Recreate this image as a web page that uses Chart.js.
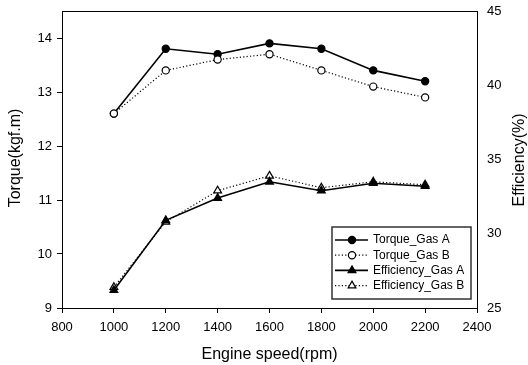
<!DOCTYPE html>
<html lang="en">
<head>
    <meta charset="UTF-8">
    <title>Torque and efficiency vs engine speed</title>
    <script src="https://cdn.jsdelivr.net/npm/chart.js"></script>
    <style>
        html, body { margin: 0; padding: 0; background: #fff; }
        #wrap { width: 528px; height: 365px; }
    </style>
</head>
<body>
    <div id="wrap"><canvas id="grafica" width="528" height="365"></canvas></div>

    <script>
        const FONT = "'Liberation Sans', Arial, sans-serif";

        // engine speed (rpm)
        const rpm = [1000, 1200, 1400, 1600, 1800, 2000, 2200];
        // torque (kgf.m)
        const torqueGasA = [12.6, 13.8, 13.7, 13.9, 13.8, 13.4, 13.2];
        const torqueGasB = [12.6, 13.4, 13.6, 13.7, 13.4, 13.1, 12.9];
        // efficiency (%)
        const effGasA = [26.2, 30.9, 32.4, 33.5, 32.9, 33.4, 33.2];
        const effGasB = [26.4, 30.8, 32.9, 33.9, 33.1, 33.5, 33.3];

        const serieNames = ['Torque_Gas A', 'Torque_Gas B', 'Efficiency_Gas A', 'Efficiency_Gas B'];

        const puntos = vals => rpm.map((r, i) => ({ x: r, y: vals[i] }));

        function serie(label, vals, axis, style, filled, dotted, orden) {
            return {
                label: label,
                data: puntos(vals),
                yAxisID: axis,
                order: orden,
                borderColor: '#000',
                borderWidth: dotted ? 1.2 : 1.6,
                borderDash: dotted ? [1.2, 2.2] : [],
                pointStyle: style,
                pointRadius: style === 'triangle' ? 4.5 : 3.6,
                pointBorderWidth: 1.2,
                pointBorderColor: '#000',
                pointBackgroundColor: filled ? '#000' : '#fff',
                tension: 0
            };
        }

        // fixed scale sizes, no extra room for the end labels
        const fijar = (w, h) => s => {
            if (w !== null) s.width = w;
            if (h !== null) s.height = h;
            s.paddingTop = 0; s.paddingBottom = 0;
            s.paddingLeft = 0; s.paddingRight = 0;
        };

        // box around the plot area
        const marco = {
            id: 'marco',
            beforeDatasetsDraw(chart) {
                const { ctx, chartArea: a } = chart;
                ctx.save();
                ctx.strokeStyle = '#000';
                ctx.lineWidth = 1;
                ctx.strokeRect(Math.round(a.left) + 0.5, Math.round(a.top) + 0.5,
                    Math.round(a.right - a.left), Math.round(a.bottom - a.top));
                ctx.restore();
            }
        };

        // axis titles
        const titulos = {
            id: 'titulos',
            afterDraw(chart) {
                const { ctx, chartArea: a } = chart;
                ctx.save();
                ctx.fillStyle = '#000';
                ctx.font = '16px ' + FONT;
                ctx.textAlign = 'center';
                ctx.textBaseline = 'middle';
                ctx.fillText('Engine speed(rpm)', (a.left + a.right) / 2, 355);

                ctx.translate(16, 158);
                ctx.rotate(-Math.PI / 2);
                ctx.fillText('Torque(kgf.m)', 0, 0);
                ctx.restore();

                ctx.save();
                ctx.fillStyle = '#000';
                ctx.font = '16px ' + FONT;
                ctx.textAlign = 'center';
                ctx.textBaseline = 'middle';
                ctx.translate(520, 160);
                ctx.rotate(-Math.PI / 2);
                ctx.fillText('Efficiency(%)', 0, 0);
                ctx.restore();
            }
        };

        // legend box in the lower right corner of the plot
        const leyenda = {
            id: 'leyenda',
            afterDraw(chart) {
                const { ctx, chartArea: a } = chart;
                const w = 139, h = 72;
                const x0 = a.right - 6 - w, y0 = a.bottom - 9 - h;
                ctx.save();
                ctx.fillStyle = '#fff';
                ctx.fillRect(x0, y0, w, h);
                ctx.strokeStyle = '#333';
                ctx.lineWidth = 1.5;
                ctx.strokeRect(x0, y0, w, h);

                ctx.font = '12px ' + FONT;
                ctx.textBaseline = 'middle';
                chart.data.datasets.forEach((ds, i) => {
                    const y = y0 + 13 + i * 15.2;
                    ctx.strokeStyle = '#000';
                    ctx.lineWidth = ds.borderWidth;
                    ctx.setLineDash(ds.borderDash);
                    ctx.beginPath();
                    ctx.moveTo(x0 + 3, y);
                    ctx.lineTo(x0 + 36, y);
                    ctx.stroke();
                    ctx.setLineDash([]);
                    ctx.fillStyle = ds.pointBackgroundColor;
                    ctx.lineWidth = ds.pointBorderWidth;
                    Chart.helpers.drawPoint(ctx, {
                        pointStyle: ds.pointStyle,
                        radius: ds.pointRadius,
                        rotation: 0,
                        borderWidth: ds.pointBorderWidth
                    }, x0 + 20, y);
                    ctx.fillStyle = '#000';
                    ctx.textAlign = 'left';
                    ctx.fillText(ds.label, x0 + 41, y);
                });
                ctx.restore();
            }
        };

        const tickFont = { family: FONT, size: 13 };

        new Chart(document.getElementById('grafica'), {
            type: 'line',
            data: {
                datasets: [
                    serie(serieNames[0], torqueGasA, 'yTorque', 'circle', true, false, 2),
                    serie(serieNames[1], torqueGasB, 'yTorque', 'circle', false, true, 1),
                    serie(serieNames[2], effGasA, 'yEff', 'triangle', true, false, 0),
                    serie(serieNames[3], effGasB, 'yEff', 'triangle', false, true, 3)
                ]
            },
            options: {
                responsive: false,
                animation: false,
                layout: { padding: { top: 11, left: 0, right: 0, bottom: 0 } },
                plugins: {
                    legend: { display: false },
                    tooltip: { enabled: false }
                },
                scales: {
                    x: {
                        type: 'linear',
                        min: 800,
                        max: 2400,
                        afterFit: fijar(null, 57),
                        grid: { drawOnChartArea: false, drawTicks: true, tickLength: 5, color: '#000' },
                        border: { display: true, color: '#000', width: 1 },
                        ticks: {
                            stepSize: 200, color: '#000', font: tickFont, padding: 7, maxRotation: 0,
                            callback: v => String(v)
                        }
                    },
                    yTorque: {
                        position: 'left',
                        min: 9,
                        max: 14.5,
                        afterFit: fijar(62, null),
                        grid: { drawOnChartArea: false, drawTicks: true, tickLength: 5, color: '#000' },
                        border: { display: true, color: '#000', width: 1 },
                        ticks: { stepSize: 1, includeBounds: false, color: '#000', font: tickFont, padding: 5 }
                    },
                    yEff: {
                        position: 'right',
                        min: 25,
                        max: 45,
                        afterFit: fijar(51, null),
                        grid: { drawOnChartArea: false, drawTicks: false },
                        border: { display: true, color: '#000', width: 1 },
                        ticks: { stepSize: 5, color: '#000', font: tickFont, padding: 10 }
                    }
                }
            },
            plugins: [marco, titulos, leyenda]
        });
    </script>
</body>
</html>
